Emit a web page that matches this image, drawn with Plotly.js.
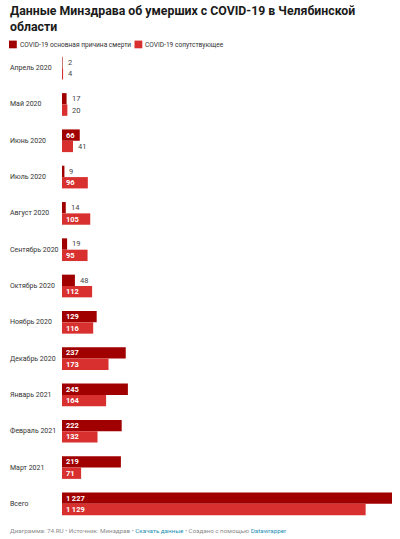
<!DOCTYPE html>
<html><head><meta charset="utf-8">
<script src="https://cdn.plot.ly/plotly-3.0.1.min.js"></script>
<style>html,body{margin:0;padding:0;background:#fff}#chart{width:400px;height:539px}</style>
</head><body><div id="chart"></div>
<script>
const categories = ["Апрель 2020","Май 2020","Июнь 2020","Июль 2020","Август 2020","Сентябрь 2020","Октябрь 2020","Ноябрь 2020","Декабрь 2020","Январь 2021","Февраль 2021","Март 2021","Всего"];
const mainCause = [2,17,66,9,14,19,48,129,237,245,222,219,1227];
const concomitant = [4,20,41,96,105,95,112,116,173,164,132,71,1129];
const seriesNames = ["COVID-19 основная причина смерти","COVID-19 сопутствующее"];
const seriesColors = ["#a10000","#d8302f"];
const titleText = "Данные Минздрава об умерших с COVID-19 в Челябинской<br>области";

const W = 400, H = 539;
const M = {l:62, r:8, t:50, b:17};
const PW = W - M.l - M.r, PH = H - M.t - M.b;
const px = x => (x - M.l) / PW;
const py = y => (H - M.b - y) / PH;
const FONT = "Roboto, 'Open Sans', sans-serif";
const INSIDE_MIN = 60;

function fmt(v){ return String(v).replace(/\B(?=(\d{3})+(?!\d))/g, "\u2009"); }

const traces = [mainCause, concomitant].map((vals, i) => ({
  type: "bar", orientation: "h", name: seriesNames[i],
  y: categories, x: vals,
  marker: {color: seriesColors[i]},
  hoverinfo: "x+name", showlegend: false
}));

const annotations = [];
// title
annotations.push({xref: "paper", yref: "paper", x: px(8), y: py(2), xanchor: "left", yanchor: "top",
  align: "left", showarrow: false, text: "<b>" + titleText + "</b>",
  font: {family: FONT, size: 12.3, color: "#1a1a1a"}});
// category labels (left aligned)
categories.forEach(c => annotations.push({
  xref: "paper", yref: "y", x: px(8), y: c, xanchor: "left", yanchor: "middle",
  text: c, showarrow: false, font: {family: FONT, size: 7, color: "#333"}
}));
// value labels
[mainCause, concomitant].forEach((vals, i) => {
  vals.forEach((v, k) => {
    const inside = v >= INSIDE_MIN;
    annotations.push({
      xref: "x", yref: "y", x: inside ? 0 : v, y: categories[k],
      xanchor: "left", yanchor: "middle", xshift: inside ? 1.5 : 3,
      yshift: i === 0 ? 5.7 : -5.7,
      text: inside ? "<b>" + fmt(v) + "</b>" : fmt(v), showarrow: false,
      font: {family: FONT, size: 7.5, color: inside ? "#ffffff" : "#444"}
    });
  });
});
// legend
const shapes = [];
const legendItems = [{x:9, tx:17.5}, {x:134.5, tx:143}];
legendItems.forEach((it, i) => {
  shapes.push({type: "rect", xref: "paper", yref: "paper",
    x0: px(it.x), x1: px(it.x + 7.8), y0: py(48.3), y1: py(40.6),
    fillcolor: seriesColors[i], line: {width: 0}});
  annotations.push({xref: "paper", yref: "paper", x: px(it.tx), y: py(44.5),
    xanchor: "left", yanchor: "middle", showarrow: false,
    text: seriesNames[i], font: {family: FONT, size: 6.6, color: "#333"}});
});
// footer
annotations.push({xref: "paper", yref: "paper", x: px(8), y: py(530.5),
  xanchor: "left", yanchor: "middle", showarrow: false,
  text: "Диаграмма: 74.RU • Источник: Минздрав • <span style='color:#1d8fb4'>Скачать данные</span> • Создано с помощью <span style='color:#1d8fb4'>Datawrapper</span>",
  font: {family: FONT, size: 6.25, color: "#8a8a8a"}});

const layout = {
  width: W, height: H, margin: M,
  paper_bgcolor: "#fff", plot_bgcolor: "#fff",
  barmode: "group", bargap: 0.375, bargroupgap: 0,
  xaxis: {range: [0, Math.max(...mainCause, ...concomitant)], visible: false, fixedrange: true},
  yaxis: {type: "category", autorange: "reversed", showticklabels: false, showgrid: false,
    zeroline: false, showline: false, ticks: "", fixedrange: true},
  annotations, shapes, showlegend: false
};
Plotly.newPlot("chart", traces, layout, {displayModeBar: false, staticPlot: true});
</script></body></html>
